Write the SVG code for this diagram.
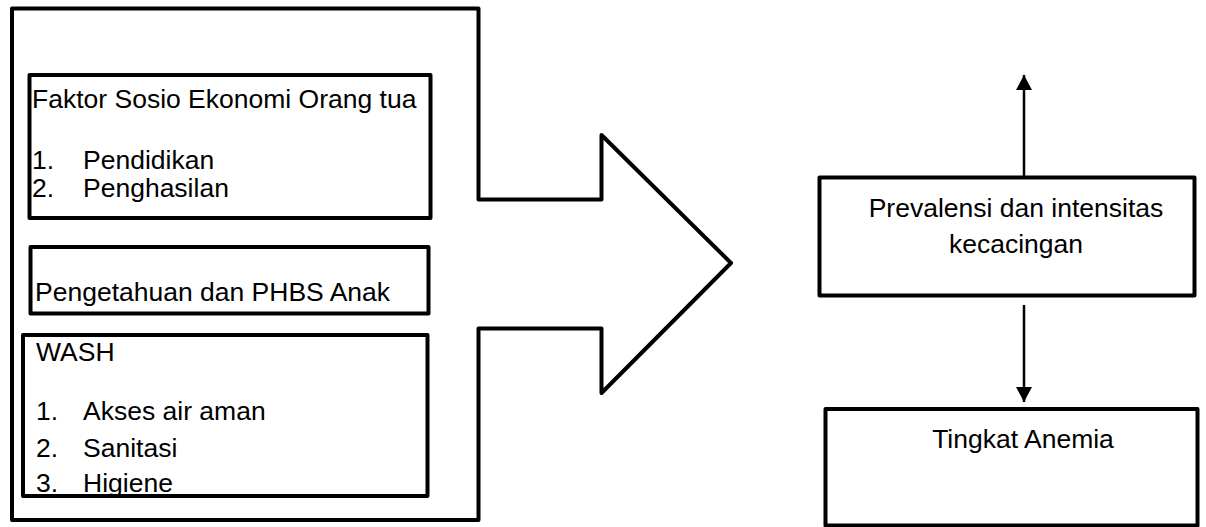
<svg xmlns="http://www.w3.org/2000/svg" width="1206" height="527" viewBox="0 0 1206 527">
  <style>
    .box { fill: #ffffff; stroke: #000000; stroke-width: 4; stroke-linejoin: round; }
    .txt { font-family: "Liberation Sans", Arial, sans-serif; font-size: 26.5px; fill: #000000; }
    .mid { text-anchor: middle; }
    .conn { stroke: #000000; stroke-width: 2.5; fill: none; }
  </style>
  <defs>
    <marker id="head" markerUnits="userSpaceOnUse" markerWidth="18" markerHeight="16" refX="15" refY="8" orient="auto">
      <path d="M0,0 L15,8 L0,16 Z" fill="#000000"/>
    </marker>
    <clipPath id="washClip">
      <rect x="23" y="335" width="404.5" height="159"/>
    </clipPath>
  </defs>
  <rect width="1206" height="527" fill="#ffffff"/>

  <g id="outer-arrow">
    <polygon class="box" points="12,8.5 478.5,8.5 478.5,199.5 601.5,199.5 601.5,135 731,263 601.5,393 601.5,328.5 478.5,328.5 478.5,520 12,520"/>
  </g>

  <g id="node-sosio">
    <rect class="box" x="29.5" y="75" width="401" height="143"/>
    <text class="txt" x="32" y="108">Faktor Sosio Ekonomi Orang tua</text>
    <text class="txt" x="32" y="169">1.</text>
    <text class="txt" x="83" y="169">Pendidikan</text>
    <text class="txt" x="32" y="197">2.</text>
    <text class="txt" x="83" y="197">Penghasilan</text>
  </g>

  <g id="node-pengetahuan">
    <rect class="box" x="30.5" y="247" width="398" height="66.5"/>
    <text class="txt" x="35" y="300.5">Pengetahuan dan PHBS Anak</text>
  </g>

  <g id="node-wash">
    <rect class="box" x="23" y="335" width="404.5" height="161"/>
    <g clip-path="url(#washClip)">
      <text class="txt" x="36" y="360.5">WASH</text>
      <text class="txt" x="36" y="420">1.</text>
      <text class="txt" x="83" y="420">Akses air aman</text>
      <text class="txt" x="36" y="456.5">2.</text>
      <text class="txt" x="83" y="456.5">Sanitasi</text>
      <text class="txt" x="36" y="491.5">3.</text>
      <text class="txt" x="83" y="491.5">Higiene</text>
    </g>
    <line x1="23" y1="496" x2="427.5" y2="496" stroke="#000000" stroke-width="4"/>
  </g>

  <g id="node-prevalensi">
    <rect class="box" x="819.5" y="177.5" width="375" height="118"/>
    <text class="txt mid" x="1016" y="217">Prevalensi dan intensitas</text>
    <text class="txt mid" x="1016" y="253">kecacingan</text>
  </g>

  <g id="node-anemia">
    <rect class="box" x="825.5" y="409" width="372" height="116.5"/>
    <text class="txt mid" x="1023" y="448">Tingkat Anemia</text>
  </g>

  <g id="connectors">
    <line class="conn" x1="1024" y1="177" x2="1024" y2="75" marker-end="url(#head)"/>
    <line class="conn" x1="1024" y1="305" x2="1024" y2="402" marker-end="url(#head)"/>
  </g>
</svg>
